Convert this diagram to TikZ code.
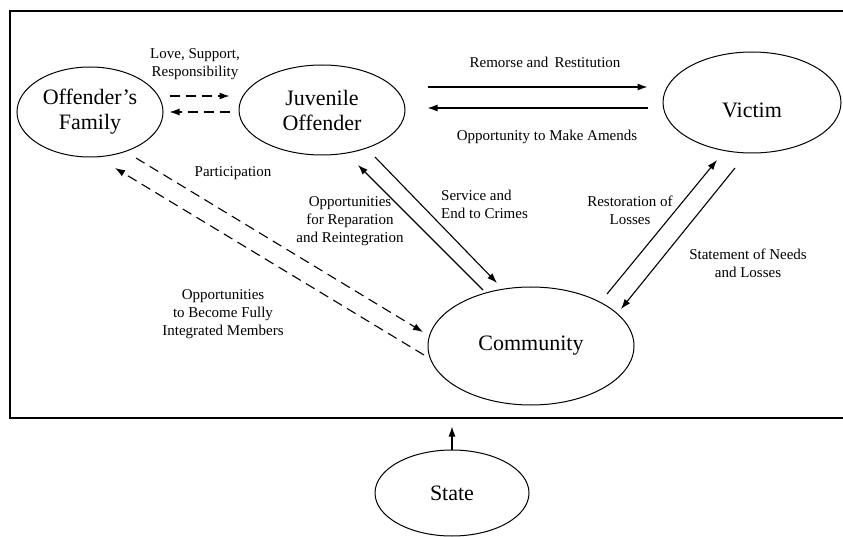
\documentclass[tikz,border=0pt]{standalone}
\usepackage{fontspec}
\setmainfont{Liberation Serif}
\usetikzlibrary{shapes.geometric,arrows.meta,calc}
\begin{document}
\begin{tikzpicture}[x=1pt,y=-1pt,
  ent/.style={ellipse,draw,line width=1pt,inner sep=0pt,align=center,font=\fontsize{22}{25}\selectfont},
  lbl/.style={align=center,font=\fontsize{15}{18}\selectfont,inner sep=0pt},
  arr/.style={line width=1.1pt,-{Latex[length=10pt,width=7pt]}},
  darr/.style={arr,dash pattern=on 10pt off 6pt}]
\useasboundingbox (0,0) rectangle (843,537);
\draw[line width=1.3pt] (850,11) -- (10,11) -- (10,418) -- (850,418);

\node[ent,minimum width=146pt,minimum height=90pt] (fam) at (90,112) {Offender's\\Family};
\node[ent,minimum width=166pt,minimum height=90pt] (juv) at (322,110) {Juvenile\\Offender};
\node[ent,minimum width=178pt,minimum height=101pt] (vic) at (752,102.5) {\raisebox{-15pt}[0pt][0pt]{Victim}};
\node[ent,minimum width=206pt,minimum height=118pt] (com) at (531,346) {Community};
\node[ent,minimum width=154pt,minimum height=86pt] (sta) at (452,493) {State};

% family <-> juvenile
\draw[darr] ($(fam.east)+(6,-16)$) -- ($(juv.west)+(-9,-14)$);
\draw[darr] ($(juv.west)+(-9,2)$) -- ($(fam.east)+(6,0)$);
\node[lbl] (lLove) at (195,64) {Love, Support,\\Responsibility};

% juvenile <-> victim
\draw[arr] ($(juv.east)+(22,-23)$) -- ($(vic.west)+(-15,-15.5)$);
\draw[arr] ($(vic.west)+(-15,5.5)$) -- ($(juv.east)+(22,-2)$);
\node[lbl] (lRem) at (545,62) {Remorse and\ \,Restitution};
\node[lbl] (lAme) at (547,137) {Opportunity to Make Amends};

% family <-> community
\draw[darr] ($(fam.center)+(46,46)$) -- ($(com.center)+(-108,-14)$);
\draw[darr] ($(com.center)+(-107,9)$) -- ($(fam.center)+(25,56)$);
\node[lbl] (lPar) at (233,173) {Participation};
\node[lbl] (lInt) at (223,314) {Opportunities\\to Become Fully\\Integrated Members};

% juvenile <-> community
\draw[arr] ($(juv.center)+(53,47)$) -- ($(com.center)+(-34,-63)$);
\draw[arr] ($(com.center)+(-48,-56)$) -- ($(juv.center)+(36,55)$);
\node[lbl] (lRep) at (350,221) {Opportunities\\for Reparation\\and Reintegration};
\node[lbl,anchor=west,align=left] (lSer) at (441,204) {Service and\\End to Crimes};

% community <-> victim
\draw[arr] ($(com.center)+(76,-52)$) -- ($(vic.center)+(-35,57.5)$);
\draw[arr] ($(vic.center)+(-17,65.5)$) -- ($(com.center)+(90,-37)$);
\node[lbl] (lRes) at (630,210) {Restoration of\\Losses};
\node[lbl] (lSta) at (748,263) {Statement of Needs\\and Losses};

% state -> frame
\draw[arr] (sta.north) -- ($(sta.north)+(0,-23)$);
\end{tikzpicture}
\end{document}
